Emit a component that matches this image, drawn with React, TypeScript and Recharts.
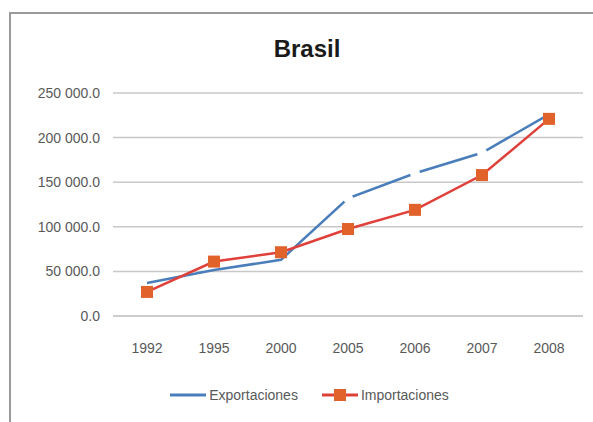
import React from "react";
import { LineChart, Line, XAxis, YAxis, CartesianGrid, Legend } from "recharts";

const years = ["1992", "1995", "2000", "2005", "2006", "2007", "2008"];
const exportaciones = [37000, 51500, 63000, 132000, 160000, 183000, 226000];
const importaciones = [27000, 61000, 71500, 97500, 119000, 158000, 221000];
const yTicks = [0, 50000, 100000, 150000, 200000, 250000];

const data = years.map((y, i) => ({
  year: y,
  Exportaciones: exportaciones[i],
  Importaciones: importaciones[i],
}));

const FONT = "'Liberation Sans', Arial, sans-serif";
const BLUE = "#4a7ebb";
const RED = "#e0403a";
const ORANGE = "#e2622c";

const fmt = (v: number) => {
  const s = v.toFixed(1);
  const [int, dec] = s.split(".");
  const grouped = int.replace(/\B(?=(\d{3})+(?!\d))/g, " ");
  return grouped + "." + dec;
};

const SquareDot = (props: any) => {
  const { cx, cy } = props;
  if (cx == null || cy == null) return null;
  return <rect x={cx - 6} y={cy - 6} width={12} height={12} fill={ORANGE} />;
};

const GapDot = (props: any) => {
  const { cx, cy, index } = props;
  if (cx == null || cy == null) return null;
  if (index < 3 || index > 5) return <g />;
  return <circle cx={cx} cy={cy} r={5} fill="#ffffff" />;
};

const LegendContent = () => (
  <div
    style={{
      display: "flex",
      justifyContent: "center",
      alignItems: "center",
      height: 20,
      paddingLeft: 26,
      boxSizing: "border-box",
      fontFamily: FONT,
      fontSize: 14,
      color: "#595959",
    }}
  >
    <svg width={36} height={12} style={{ marginRight: 3 }}>
      <line x1={0} y1={6} x2={36} y2={6} stroke={BLUE} strokeWidth={3} />
    </svg>
    <span style={{ marginRight: 24 }}>Exportaciones</span>
    <svg width={36} height={12} style={{ marginRight: 3 }}>
      <line x1={0} y1={6} x2={36} y2={6} stroke={RED} strokeWidth={3} />
      <rect x={12} y={0} width={12} height={12} fill={ORANGE} />
    </svg>
    <span>Importaciones</span>
  </div>
);

export default function App() {
  return (
    <div style={{ position: "absolute", left: 0, top: 0, width: 593, height: 422, background: "#fff", overflow: "hidden" }}>
      <div
        style={{
          position: "absolute",
          left: 9,
          top: 12,
          width: 600,
          height: 430,
          border: "2px solid #9a9a9a",
          boxSizing: "border-box",
        }}
      />
      <div style={{ position: "absolute", left: 0, top: 0 }}>
        <LineChart
          width={593}
          height={422}
          data={data}
          margin={{ top: 93, right: 10, bottom: 36, left: 0 }}
        >
          <text
            x={307}
            y={57}
            textAnchor="middle"
            style={{ fontFamily: FONT, fontSize: 24, fontWeight: 700, fill: "#1a1a1a" }}
          >
            Brasil
          </text>
          <CartesianGrid horizontal vertical={false} stroke="#c8c8c8" strokeWidth={1.5} />
          <XAxis
            dataKey="year"
            height={50}
            padding={{ left: 34, right: 34 }}
            tickSize={0}
            tickMargin={27}
            axisLine={{ stroke: "#c8c8c8", strokeWidth: 1.5 }}
            tick={{ fontFamily: FONT, fontSize: 14, fill: "#595959" }}
          />
          <YAxis
            width={113}
            domain={[0, 250000]}
            ticks={yTicks}
            tickFormatter={fmt}
            tickSize={0}
            tickMargin={13}
            axisLine={false}
            tick={{ fontFamily: FONT, fontSize: 14, fill: "#595959" }}
          />
          <Legend
            verticalAlign="bottom"
            height={20}
            content={<LegendContent />}
            wrapperStyle={{ top: 385, bottom: "auto", left: 0, width: 593 }}
          />
          <Line
            type="linear"
            dataKey="Exportaciones"
            stroke={BLUE}
            strokeWidth={2.5}
            dot={<GapDot />}
            activeDot={false}
            isAnimationActive={false}
          />
          <Line
            type="linear"
            dataKey="Importaciones"
            stroke={RED}
            strokeWidth={2.5}
            dot={<SquareDot />}
            activeDot={false}
            isAnimationActive={false}
          />
        </LineChart>
      </div>
    </div>
  );
}
